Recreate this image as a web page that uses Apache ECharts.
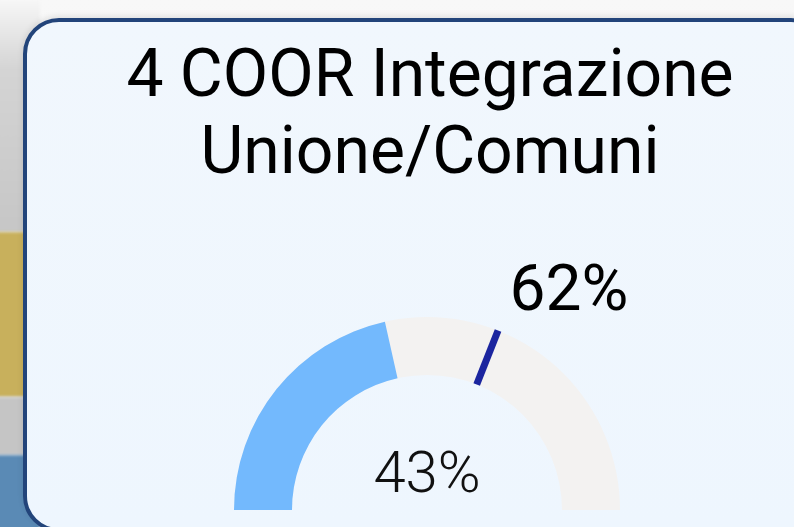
<!DOCTYPE html>
<html>
<head>
<meta charset="utf-8">
<script src="https://cdn.jsdelivr.net/npm/echarts@6/dist/echarts.min.js"></script>
<style>
  html, body { margin: 0; padding: 0; width: 794px; height: 527px; overflow: hidden; background: linear-gradient(180deg, #f8f8f8 0%, #eeeeee 100%); }
  .strip { position: absolute; left: -4px; width: 44px; filter: blur(1.5px); }
  #card {
    position: absolute; left: 23px; top: 18px; width: 796px; height: 506px;
    border: 4px solid #22447a; border-radius: 36px;
    background: linear-gradient(180deg, #f1f7fd 0%, #eef6fe 100%);
    box-shadow: 0 -2px 6px rgba(0,0,0,0.10);
  }
  #container { position: absolute; left: 0; top: 0; width: 794px; height: 527px; }
</style>
</head>
<body>
<div class="strip" style="top:0;height:232px;background:linear-gradient(180deg,#f6f6f6 0%,#d4d4d4 30%,#c6c6c6 100%)"></div>
<div class="strip" style="top:232px;height:165px;background:#c8b05c"></div>
<div class="strip" style="top:397px;height:58px;background:#c5c5c5"></div>
<div class="strip" style="top:455px;height:80px;background:#5a8ab5"></div>
<div id="card"></div>
<div id="container"></div>
<script>
var titleLines = ['4 COOR Integrazione', 'Unione/Comuni'];
var actualValue = [43];
var targetValue = [62];

var dom = document.getElementById('container');
var myChart = echarts.init(dom);
var option = {
    backgroundColor: 'transparent',
    title: {
        text: titleLines.join('\n'),
        left: 425,
        top: 36,
        textAlign: 'center',
        textStyle: {
            color: '#000',
            fontFamily: 'Roboto',
            fontWeight: 'normal',
            fontSize: 66,
            lineHeight: 77
        }
    },
    series: [
        {
            name: 'valore',
            type: 'gauge',
            center: [427, 510],
            radius: 193,
            startAngle: 180,
            endAngle: 0,
            min: 0,
            max: 100,
            progress: { show: true, width: 58, itemStyle: { color: '#73b9fd' } },
            axisLine: { lineStyle: { width: 58, color: [[1, '#f3f2f1']] } },
            pointer: { show: false },
            axisTick: { show: false },
            splitLine: { show: false },
            axisLabel: { show: false },
            title: { show: false },
            anchor: { show: false },
            detail: {
                offsetCenter: [0, -33],
                formatter: '{value}%',
                color: '#111',
                fontFamily: 'Roboto',
                fontWeight: 300,
                fontSize: 58
            },
            data: [{ value: actualValue[0] }]
        },
        {
            name: 'obiettivo',
            type: 'gauge',
            center: [427, 510],
            radius: 193,
            startAngle: 180,
            endAngle: 0,
            min: 0,
            max: 100,
            axisLine: { show: false },
            progress: { show: false },
            axisTick: { show: false },
            splitLine: { show: false },
            axisLabel: { show: false },
            title: { show: false },
            anchor: { show: false },
            pointer: {
                show: true,
                icon: 'rect',
                length: 58,
                width: 7,
                offsetCenter: [0, -135],
                itemStyle: { color: '#1b259f' }
            },
            detail: {
                offsetCenter: [142, -216],
                formatter: '{value}%',
                color: '#000',
                fontFamily: 'Roboto',
                fontWeight: 'normal',
                fontSize: 64
            },
            data: [{ value: targetValue[0] }]
        }
    ]
};
if (option && typeof option === "object") {
    myChart.setOption(option, true);
}
</script>
</body>
</html>
